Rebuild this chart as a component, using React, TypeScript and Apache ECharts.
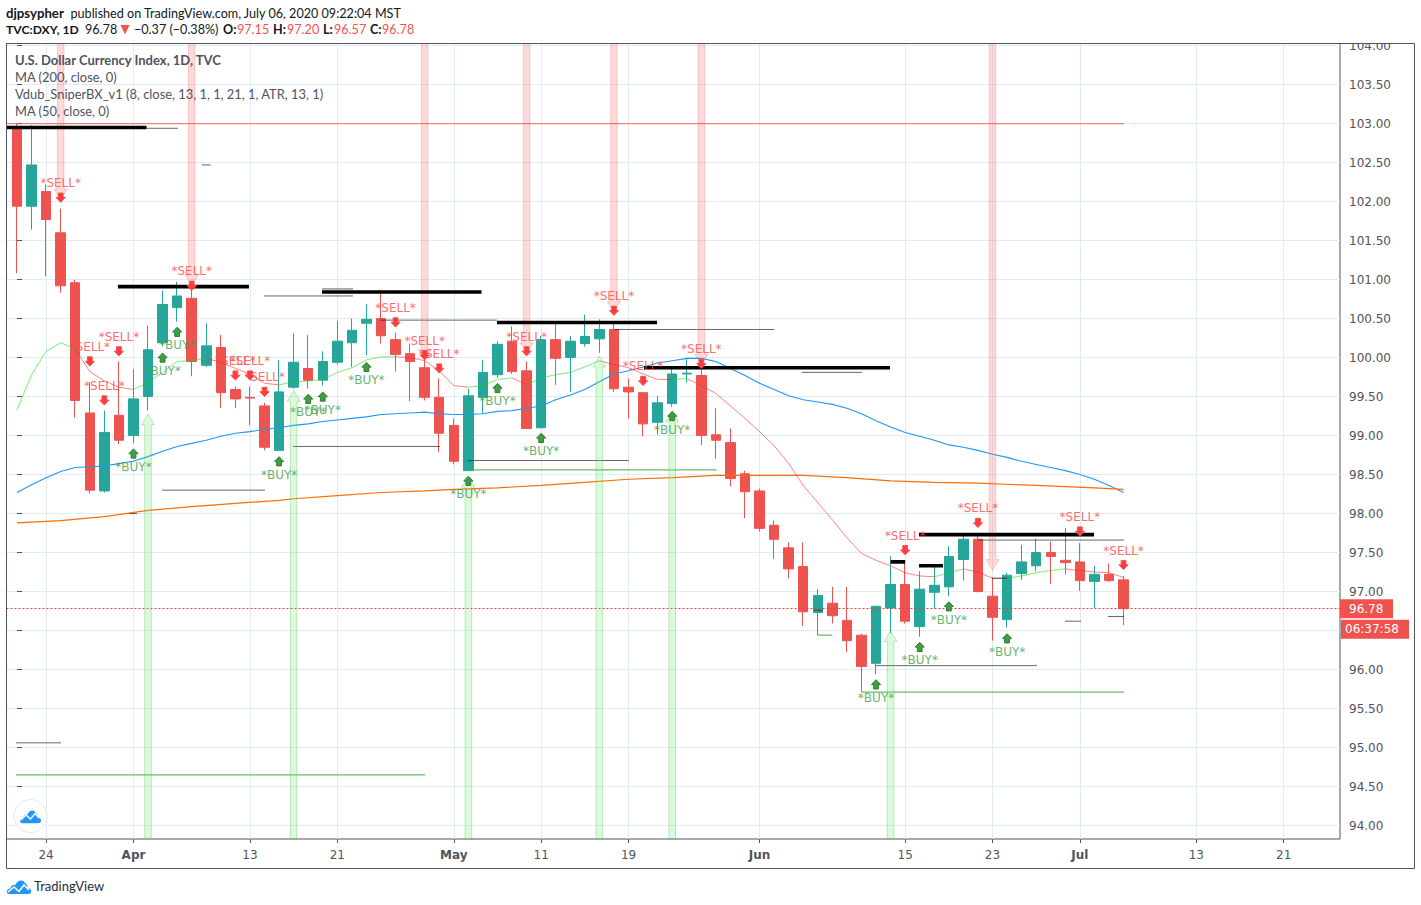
import React, { useEffect, useRef } from "react";
import * as echarts from "echarts";

// [open, close, low, high]; one row per trading day, 20 Mar 2020 to 6 Jul 2020
const ohlc: number[][] = [
  [102.95, 101.94, 101.08, 103.0], [101.94, 102.47, 101.64, 102.98], [102.13, 101.77, 101.04, 102.22], [101.6, 100.92, 100.83, 101.91],
  [100.96, 99.45, 99.23, 101.0], [99.29, 98.3, 98.26, 99.68], [98.29, 99.04, 98.27, 99.32], [99.26, 98.94, 98.89, 99.95],
  [99.0, 99.47, 98.9, 99.85], [99.5, 100.1, 99.32, 100.41], [100.19, 100.68, 100.14, 100.86], [100.64, 100.79, 100.46, 100.97],
  [100.76, 99.95, 99.76, 100.92], [99.9, 100.15, 99.88, 100.44], [100.13, 99.55, 99.35, 100.29], [99.59, 99.47, 99.35, 99.63],
  [99.49, 99.48, 99.13, 99.63], [99.38, 98.85, 98.81, 99.42], [98.81, 99.56, 98.81, 99.97], [99.62, 99.94, 99.6, 100.31],
  [99.86, 99.71, 99.6, 100.29], [99.71, 99.95, 99.64, 100.08], [99.94, 100.21, 99.91, 100.47], [100.19, 100.35, 99.88, 100.5],
  [100.44, 100.49, 100.03, 100.69], [100.5, 100.28, 100.18, 100.87], [100.23, 100.04, 99.82, 100.32], [100.05, 99.95, 99.44, 100.18],
  [99.87, 99.49, 99.45, 99.99], [99.49, 99.03, 98.79, 99.73], [99.13, 98.67, 98.63, 99.22], [98.55, 99.51, 98.55, 99.6],
  [99.49, 99.81, 99.28, 99.97], [99.78, 100.17, 99.74, 100.21], [100.21, 99.82, 99.79, 100.4], [99.83, 99.09, 99.09, 99.95],
  [99.1, 100.23, 99.1, 100.28], [100.23, 99.99, 99.65, 100.44], [100.0, 100.21, 99.56, 100.28], [100.18, 100.27, 100.14, 100.55],
  [100.24, 100.36, 100.06, 100.49], [100.36, 99.6, 99.56, 100.46], [99.62, 99.56, 99.22, 99.73], [99.55, 99.15, 98.99, 99.56],
  [99.17, 99.42, 99.01, 99.51], [99.41, 99.79, 99.37, 99.87], [99.79, 99.8, 99.68, 99.99], [99.77, 99.0, 98.88, 99.99],
  [99.01, 98.94, 98.7, 99.35], [98.91, 98.45, 98.35, 99.09], [98.51, 98.28, 97.94, 98.55], [98.29, 97.81, 97.77, 98.32],
  [97.85, 97.67, 97.42, 97.91], [97.56, 97.29, 97.17, 97.63], [97.32, 96.74, 96.56, 97.63], [96.73, 96.95, 96.44, 97.03],
  [96.85, 96.69, 96.59, 97.06], [96.63, 96.37, 96.22, 97.06], [96.44, 96.04, 95.71, 96.46], [96.08, 96.81, 95.94, 96.82],
  [96.79, 97.09, 96.47, 97.45], [97.09, 96.62, 96.59, 97.37], [96.55, 97.03, 96.42, 97.26], [96.99, 97.08, 96.78, 97.33],
  [97.06, 97.45, 96.94, 97.58], [97.41, 97.67, 97.14, 97.72], [97.67, 97.0, 96.99, 97.74], [96.94, 96.67, 96.37, 97.18],
  [96.64, 97.21, 96.54, 97.24], [97.23, 97.38, 97.15, 97.6], [97.33, 97.5, 97.26, 97.68], [97.5, 97.45, 97.1, 97.64],
  [97.4, 97.37, 97.22, 97.81], [97.38, 97.14, 97.01, 97.62], [97.13, 97.22, 96.79, 97.33], [97.22, 97.14, 97.12, 97.36],
  [97.15, 96.78, 96.57, 97.2],
];

const ma50: number[] = [
  98.27, 98.37, 98.46, 98.54, 98.59, 98.6, 98.61, 98.64, 98.67, 98.73, 98.8, 98.86, 98.9, 98.94, 98.99, 99.03, 99.05, 99.08, 99.1, 99.13,
  99.15, 99.18, 99.2, 99.22, 99.24, 99.27, 99.28, 99.29, 99.3, 99.28, 99.27, 99.27, 99.28, 99.31, 99.32, 99.35, 99.38, 99.46, 99.52, 99.59,
  99.69, 99.79, 99.83, 99.88, 99.93, 99.96, 99.99, 99.99, 99.95, 99.86, 99.77, 99.67, 99.59, 99.51, 99.46, 99.43, 99.4, 99.35, 99.28, 99.19,
  99.11, 99.04, 98.99, 98.94, 98.88, 98.85, 98.81, 98.76, 98.72, 98.67, 98.63, 98.59, 98.55, 98.5, 98.44, 98.36, 98.27,
];

// [bar, value] readings of the 200-day average
const ma200: number[][] = [
  [0, 97.88], [3, 97.91], [6, 97.96], [9, 98.04], [12, 98.09], [15, 98.13], [18, 98.17], [19, 98.19], [22, 98.23], [25, 98.27], [28, 98.29],
  [30, 98.31], [33, 98.33], [36, 98.36], [39, 98.4], [42, 98.44], [45, 98.46], [48, 98.49], [52, 98.49], [54, 98.49], [57, 98.46], [60, 98.42],
  [63, 98.4], [66, 98.39], [70, 98.36], [74, 98.33], [76, 98.31],
];

// Vdub channel midline, split into rising (green) and falling (red) stretches: first bar, values
const channelUp: [number, number[]][] = [
  [0, [99.33, 99.78, 100.08, 100.19, 100.11]],
  [8, [99.59, 99.68, 99.81, 99.95, 99.96, 99.99]],
  [18, [99.65, 99.69, 99.7, 99.72, 99.81, 99.87, 99.97, 100.01, 100.01]],
  [31, [99.62, 99.64, 99.72, 99.74]],
  [35, [99.65, 99.74, 99.78, 99.81, 99.88, 99.96]],
  [45, [99.72, 99.73]],
  [63, [97.19, 97.24, 97.29]],
  [68, [97.17, 97.2, 97.24, 97.27, 97.29]],
];
const channelDown: [number, number[]][] = [
  [4, [100.11, 99.82, 99.7, 99.62, 99.59]],
  [13, [99.99, 99.94, 99.86, 99.79, 99.67, 99.65]],
  [26, [100.01, 100.0, 99.96, 99.83, 99.64, 99.62]],
  [34, [99.74, 99.65]],
  [40, [99.96, 99.91, 99.87, 99.79, 99.72, 99.72]],
  [46, [99.73, 99.64, 99.54, 99.38, 99.22, 99.05, 98.87, 98.64, 98.36, 98.14, 97.92, 97.69, 97.49, 97.4, 97.33, 97.24, 97.2, 97.19]],
  [65, [97.29, 97.25, 97.17, 97.17]],
  [72, [97.29, 97.27, 97.25, 97.24, 97.18]],
];

// Horizontal levels: [from bar, to bar, price]
const blackLevels: number[][] = [
  [-0.72, 8.9, 102.95], [6.93, 15.93, 100.91], [20.95, 31.9, 100.84], [32.97, 43.96, 100.45], [43.06, 59.96, 99.87],
  [60, 61, 97.38], [61.95, 63.6, 97.33], [61.95, 73.97, 97.73],
];
const greyLevels: number[][] = [
  [8.93, 11.06, 102.94], [12.7, 13.3, 102.47], [16.96, 23.08, 100.79], [20.95, 23.08, 100.88], [24.93, 32.97, 100.48],
  [41, 52, 100.36], [53.9, 58.03, 99.81], [18.96, 29.05, 98.86], [9.96, 17.03, 98.3], [7.7, 8.24, 98.0], [-0.07, 3.02, 95.06],
  [30.98, 42.03, 98.68], [59, 70.05, 96.05], [54.74, 55.36, 96.76], [66, 76.03, 97.66], [71.98, 73.08, 96.62],
  [74.93, 76.03, 96.68], [66.96, 68, 97.17],
];
const greenLevels: number[][] = [
  [-0.07, 28.03, 94.65], [31, 48.05, 98.56], [55, 56, 96.44], [58.03, 76.03, 95.71],
];
const redLevels: number[][] = [[-0.72, 76.03, 103.0]];

// Signals: [bar, price of the arrow]
const sellSignals: number[][] = [
  [3, 102.05], [12, 100.92], [5, 99.95], [7, 100.08], [6, 99.45], [15, 99.77], [16, 99.77], [17, 99.56], [26, 100.45], [28, 100.03],
  [29, 99.86], [35, 100.08], [41, 100.6], [43, 99.7], [47, 99.92], [61, 97.53], [66, 97.88], [73, 97.77], [76, 97.34],
];
const buySignals: number[][] = [
  [8, 98.77], [11, 100.33], [10, 100.0], [18, 98.67], [20, 99.47], [21, 99.5], [24, 99.88], [33, 99.61], [36, 98.97], [31, 98.42],
  [45, 99.25], [59, 95.81], [62, 96.29], [64, 96.81], [68, 96.4],
];
// Tall bands: [bar, price at the arrow tip]
const sellBands: number[][] = [[3, 102.02], [12, 100.92], [28, 99.96], [35, 100.05], [41, 100.58], [47, 99.9], [67, 97.27]];
const buyBands: number[][] = [[9, 99.28], [19, 99.58], [31, 98.48], [40, 100.02], [45, 99.32], [60, 96.5]];

const tickBars = [2, 8, 16, 22, 30, 36, 42, 51, 61, 67, 73, 81, 87];
const tickLabels = ["24", "Apr", "13", "21", "May", "11", "19", "Jun", "15", "23", "Jul", "13", "21"];
const monthLabels = ["Apr", "May", "Jun", "Jul"];
const priceTicks = [94, 94.5, 95, 95.5, 96, 96.5, 97, 97.5, 98, 98.5, 99, 99.5, 100, 100.5, 101, 101.5, 102, 102.5, 103, 103.5, 104];
// 96.50 sits behind the countdown tag in the reference, so it has no visible label
const priceLabels = priceTicks.filter((p) => p !== 96.5);
const lastClose = 96.78;

const RED = "#ef5350";
const TEAL = "#26a69a";
const INK = "#50535e";
const SANS = "DejaVu Sans";
const UI = "Lato";

echarts.graphic.registerShape(
  "tvCloud",
  echarts.graphic.extendPath("M3 15C0 15 0 10 4 9.5C5 6 8 5 9.5 6C11 1 17 0 19 4C21 5 22 8 21.5 9C26 9 27 15 22 15Z", {})
);

const levelData = (rows: number[][]) => {
  const out: any[] = [];
  rows.forEach(([a, b, p]) => out.push([a, p], [b, p], ["-", "-"]));
  return out;
};
const stretchData = (rows: [number, number[]][]) => {
  const out: any[] = [];
  rows.forEach(([start, vals]) => {
    vals.forEach((v, k) => out.push([start + k, v]));
    out.push(["-", "-"]);
  });
  return out;
};
const lineSeries = (data: any[], color: string, width: number, z: number) => ({
  type: "line",
  data,
  symbol: "none",
  silent: true,
  z,
  connectNulls: false,
  lineStyle: { color, width },
});

const bandSeries = (data: number[][], down: boolean) => ({
  type: "custom",
  data,
  z: 6,
  silent: true,
  clip: true,
  encode: { x: 0, y: 1 },
  renderItem: (_p: any, api: any) => {
    const [x, tip] = api.coord([api.value(0), api.value(1)]);
    const hw = 3.3;
    const head = 6.5;
    const len = 11;
    const sign = down ? -1 : 1;
    const edge = down ? 43.5 : 839;
    const neck = tip + sign * len;
    return {
      type: "polygon",
      shape: {
        points: [
          [x - hw, edge],
          [x - hw, neck],
          [x - head, neck],
          [x, tip],
          [x + head, neck],
          [x + hw, neck],
          [x + hw, edge],
        ],
      },
      style: {
        fill: down ? "rgba(255,82,82,0.22)" : "rgba(102,238,102,0.24)",
        stroke: down ? "rgba(229,100,100,0.28)" : "rgba(76,175,80,0.3)",
        lineWidth: 1,
      },
    };
  },
});

const signalSeries = (data: number[][], sell: boolean) => ({
  type: "custom",
  data,
  z: 8,
  silent: true,
  clip: false,
  encode: { x: 0, y: 1 },
  renderItem: (_p: any, api: any) => {
    const [x, y] = api.coord([api.value(0), api.value(1)]);
    const s = sell ? 1 : -1;
    const pts = [
      [x - 2.4, y - 4.6 * s],
      [x + 2.4, y - 4.6 * s],
      [x + 2.4, y - 0.2 * s],
      [x + 4.6, y - 0.2 * s],
      [x, y + 4.6 * s],
      [x - 4.6, y - 0.2 * s],
      [x - 2.4, y - 0.2 * s],
    ];
    return {
      type: "group",
      children: [
        {
          type: "polygon",
          shape: { points: pts },
          style: sell
            ? { fill: "#ff3b3b", stroke: "#ee5555", lineWidth: 1 }
            : { fill: "#3f9f45", stroke: "#2e7d32", lineWidth: 1 },
        },
        {
          type: "text",
          x,
          y: y + (sell ? -14.5 : 13.5),
          style: {
            text: sell ? "*SELL*" : "*BUY*",
            fontFamily: SANS,
            fontSize: 12,
            fill: sell ? "rgba(255,70,70,0.8)" : "rgba(67,160,71,0.8)",
            align: "center",
            verticalAlign: "middle",
          },
        },
      ],
    };
  },
});

const txt = (x: number, y: number, text: string, fill: string, opts: any = {}) => ({
  type: "text",
  x,
  y,
  z: 110,
  silent: true,
  style: {
    text,
    fill,
    fontFamily: UI,
    fontSize: 12.6,
    verticalAlign: "middle",
    ...opts,
  },
});

export default function App() {
  const ref = useRef<HTMLDivElement>(null);
  useEffect(() => {
    const chart = echarts.init(ref.current!, null, { renderer: "svg" });
    chart.setOption({
      animation: false,
      backgroundColor: "#ffffff",
      grid: { left: 6.5, top: 43.5, width: 1333.5, height: 795.5, show: true, borderColor: INK, borderWidth: 1, backgroundColor: "transparent" },
      xAxis: {
        type: "value",
        min: -0.7212,
        max: 90.866,
        axisLine: { show: false },
        axisTick: { show: true, length: 4, lineStyle: { color: INK }, customValues: tickBars },
        splitLine: { show: true, lineStyle: { color: "#e1ecf2", width: 1 } },
        axisLabel: {
          customValues: tickBars,
          margin: 10,
          color: INK,
          fontFamily: SANS,
          fontSize: 12,
          formatter: (v: number) => {
            const label = tickLabels[tickBars.indexOf(v)] ?? "";
            return monthLabels.includes(label) ? `{m|${label}}` : label;
          },
          rich: { m: { fontWeight: "bold", fontFamily: SANS, fontSize: 12, color: INK } },
        },
      },
      yAxis: {
        type: "value",
        position: "right",
        min: 93.827,
        max: 104.027,
        axisLine: { show: false },
        axisTick: { show: true, length: 5, lineStyle: { color: INK }, customValues: priceTicks },
        splitLine: { show: true, lineStyle: { color: "#e1ecf2", width: 1 } },
        axisLabel: {
          customValues: priceLabels,
          margin: 9,
          color: INK,
          fontFamily: SANS,
          fontSize: 12,
          formatter: (v: number) => v.toFixed(2),
        },
      },
      series: [
        {
          type: "candlestick",
          barWidth: 10,
          z: 4,
          silent: true,
          data: ohlc.map((r, i) => [i, r[0], r[1], r[2], r[3]]),
          itemStyle: { color: TEAL, color0: RED, borderColor: TEAL, borderColor0: RED, borderWidth: 1 },
          markLine: {
            silent: true,
            symbol: "none",
            label: { show: false },
            lineStyle: { color: "#f03b3b", type: [2, 2], width: 1 },
            data: [{ yAxis: lastClose }],
          },
        },
        bandSeries(sellBands, true),
        bandSeries(buyBands, false),
        lineSeries(ma50.map((v, i) => [i, v]), "#2196f3", 1.1, 5),
        lineSeries(ma200, "#ff6d00", 1.2, 5),
        lineSeries(stretchData(channelUp), "rgba(0,230,0,0.55)", 1, 5),
        lineSeries(stretchData(channelDown), "rgba(255,30,30,0.55)", 1, 5),
        lineSeries(levelData(redLevels), "rgba(239,83,80,0.7)", 1.2, 5),
        lineSeries(levelData(greyLevels), "rgba(40,40,40,0.7)", 1, 5),
        lineSeries(levelData(greenLevels), "rgba(76,175,80,0.85)", 1.2, 5),
        lineSeries(levelData(blackLevels), "#000000", 3.6, 7),
        signalSeries(sellSignals, true),
        signalSeries(buySignals, false),
      ],
    });

    const priceY = chart.convertToPixel({ yAxisIndex: 0 }, lastClose) as number;
    chart.setOption({
      graphic: {
        elements: [
          { type: "rect", z: 100, silent: true, shape: { x: 1342, y: 36, width: 70, height: 7 }, style: { fill: "#fff" } },
          { type: "rect", z: 101, silent: true, shape: { x: 6.5, y: 43.5, width: 1408, height: 825 }, style: { fill: "none", stroke: INK, lineWidth: 1 } },
          { type: "rect", z: 105, silent: true, shape: { x: 1340, y: priceY - 9.5, width: 53, height: 19 }, style: { fill: RED } },
          txt(1349, priceY + 0.5, String(lastClose.toFixed(2)), "#fff", { fontFamily: SANS, fontSize: 12 }),
          { type: "rect", z: 105, silent: true, shape: { x: 1341, y: priceY + 11, width: 68, height: 19 }, style: { fill: RED } },
          txt(1345, priceY + 20.5, "06:37:58", "#fff", { fontFamily: SANS, fontSize: 12 }),

          txt(6, 13, "djpsypher", "#131722", { fontWeight: "bold", fontSize: 13.2 }),
          txt(70.5, 13, "published on TradingView.com, July 06, 2020 09:22:04 MST", "#131722"),
          txt(6, 29.5, "TVC:DXY, 1D", "#131722", { fontWeight: "bold", fontSize: 12.2 }),
          txt(85, 29.5, "96.78", "#131722"),
          { type: "polygon", z: 110, silent: true, shape: { points: [[120.5, 25], [129.5, 25], [125, 34.5]] }, style: { fill: RED } },
          txt(134, 29.5, "−0.37 (−0.38%)", "#131722"),
          txt(223, 29.5, "O:", "#131722", { fontWeight: "bold" }),
          txt(237, 29.5, "97.15", RED),
          txt(273, 29.5, "H:", "#131722", { fontWeight: "bold" }),
          txt(287, 29.5, "97.20", RED),
          txt(323, 29.5, "L:", "#131722", { fontWeight: "bold" }),
          txt(334, 29.5, "96.57", RED),
          txt(370, 29.5, "C:", "#131722", { fontWeight: "bold" }),
          txt(382, 29.5, "96.78", RED),

          txt(15, 60, "U.S. Dollar Currency Index, 1D, TVC", INK, { fontWeight: "bold", fontSize: 13 }),
          txt(15, 77, "MA (200, close, 0)", INK, { fontSize: 12.9 }),
          txt(15, 94, "Vdub_SniperBX_v1 (8, close, 13, 1, 1, 21, 1, ATR, 13, 1)", INK, { fontSize: 12.9 }),
          txt(15, 111, "MA (50, close, 0)", INK, { fontSize: 12.9 }),

          { type: "circle", z: 102, silent: true, shape: { cx: 30.5, cy: 816, r: 16.5 }, style: { fill: "#fff", stroke: "#e4e6ea", lineWidth: 1 } },
          { type: "tvCloud", z: 103, silent: true, x: 19.5, y: 809, scaleX: 0.85, scaleY: 0.95, style: { fill: "#2196f3" } },
          { type: "polyline", z: 104, silent: true, shape: { points: [[21, 820], [26, 815], [30.5, 819], [35, 813.5], [39, 818]] }, style: { stroke: "#fff", lineWidth: 1.4, fill: "none" } },
          { type: "tvCloud", z: 103, silent: true, x: 6, y: 879, style: { fill: "#2196f3" } },
          { type: "polyline", z: 104, silent: true, shape: { points: [[8, 892], [14, 887], [19, 891.5], [24, 885], [29, 890]] }, style: { stroke: "#fff", lineWidth: 1.5, fill: "none" } },
          txt(34, 886, "TradingView", "#2a2e39", { fontSize: 13 }),
        ],
      },
    });
    return () => chart.dispose();
  }, []);
  return <div ref={ref} style={{ position: "absolute", left: 0, top: 0, width: 1421, height: 905 }} />;
}
